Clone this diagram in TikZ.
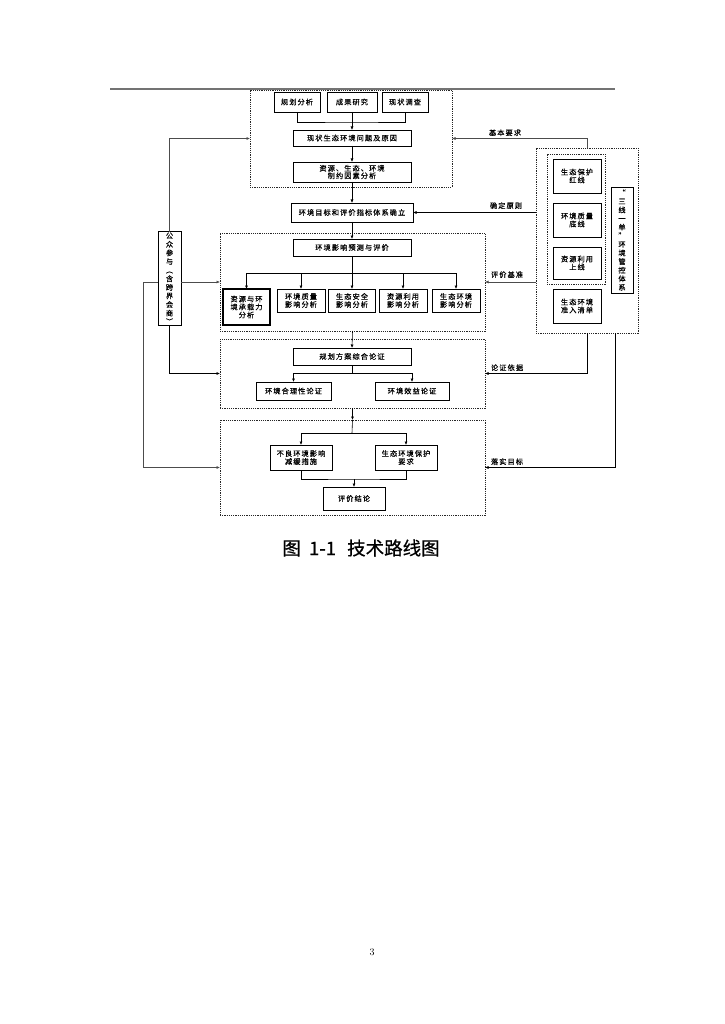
\documentclass[tikz,border=0pt]{standalone}
\usepackage{fontspec}
\newfontfamily\cjk[LetterSpace=15,FakeBold=0.4]{Noto Sans CJK SC}
\newfontfamily\cjkv[FakeBold=0.4]{Noto Sans CJK SC}
\newfontfamily\capf[FakeBold=0.5]{Noto Sans CJK SC}
\usetikzlibrary{arrows.meta,shadows}
\begin{document}
\begin{tikzpicture}[x=1pt,y=-1pt,
  every node/.style={outer sep=0pt},
  bx/.style={draw=black, line width=0.6pt, fill=white, inner sep=1pt, align=center,
    font=\cjk\fontsize{7.2}{9}\selectfont,
    drop shadow={shadow xshift=0.9pt, shadow yshift=-0.9pt, fill=black!55, opacity=1}},
  vbx/.style={bx, font=\cjkv\fontsize{7.2}{8.6}\selectfont},
  dbox/.style={draw=black!85, line width=0.6pt, dash pattern=on 1.2pt off 1pt, inner sep=0pt},
  ln/.style={draw=black, line width=0.6pt},
  arr/.style={ln, -{Latex[length=3.5pt,width=3pt]}},
  sarr/.style={arr, draw=black!70},
  lbl/.style={font=\cjk\fontsize{7.2}{8}\selectfont, inner sep=0pt, anchor=south west}]
\useasboundingbox (0,0) rectangle (724,1024);
\fill[white] (0,0) rectangle (724,1024);
% header rule
\draw[line width=1.5pt, black!55] (110,89) -- (615,89);
% dashed groups
\node[dbox, minimum width=202pt, minimum height=97pt] (d1) at (351,138.5) {};
\node[dbox, minimum width=265pt, minimum height=98pt] (d2) at (352.5,282) {};
\node[dbox, minimum width=265pt, minimum height=69pt] (d3) at (352.5,373.5) {};
\node[dbox, minimum width=265pt, minimum height=95pt] (d4) at (352.5,467.5) {};
\node[dbox, minimum width=102pt, minimum height=185pt] (ob) at (587,240.5) {};
\node[dbox, minimum width=58pt, minimum height=130pt] (ib) at (576,219) {};
% top group
\node[bx, minimum width=46pt, minimum height=20pt] (gh) at (297,102) {规划分析};
\node[bx, minimum width=50pt, minimum height=20pt] (cg) at (352,102) {成果研究};
\node[bx, minimum width=46pt, minimum height=20pt] (xz) at (405,102) {现状调查};
\node[bx, minimum width=118pt, minimum height=16pt] (wt) at (352,138) {现状生态环境问题及原因};
\node[bx, minimum width=118pt, minimum height=20pt] (zy) at (352,172) {资源、生态、环境\\[-1.5pt]制约因素分析};
\node[bx, minimum width=122pt, minimum height=19pt] (mb) at (352,212.5) {环境目标和评价指标体系确立};
% prediction group
\node[bx, minimum width=118pt, minimum height=17pt] (yc) at (352,247.5) {环境影响预测与评价};
\node[bx, line width=1.2pt, minimum width=47pt, minimum height=36pt] (a1) at (246.5,307) {资源与环\\[-1pt]境承载力\\[-1pt]分析};
\node[bx, minimum width=48pt, minimum height=23pt] (a2) at (301,300.5) {环境质量\\[-1pt]影响分析};
\node[bx, minimum width=47pt, minimum height=23pt] (a3) at (352,300.5) {生态安全\\[-1pt]影响分析};
\node[bx, minimum width=48pt, minimum height=23pt] (a4) at (403,300.5) {资源利用\\[-1pt]影响分析};
\node[bx, minimum width=48pt, minimum height=23pt] (a5) at (456,300.5) {生态环境\\[-1pt]影响分析};
% demonstration group
\node[bx, minimum width=118pt, minimum height=17pt] (lz) at (352,356.5) {规划方案综合论证};
\node[bx, minimum width=75pt, minimum height=18pt] (hl) at (293.5,391) {环境合理性论证};
\node[bx, minimum width=74pt, minimum height=18pt] (xy) at (412,391) {环境效益论证};
% conclusion group
\node[bx, minimum width=62pt, minimum height=25pt] (jh) at (301,457.5) {不良环境影响\\[-1pt]减缓措施};
\node[bx, minimum width=62pt, minimum height=25pt] (bh) at (406,457.5) {生态环境保护\\[-1pt]要求};
\node[bx, minimum width=62pt, minimum height=23pt] (jl) at (354,498.5) {评价结论};
% right group
\node[bx, minimum width=48pt, minimum height=34pt] (hx) at (577,176) {生态保护\\[-1pt]红线};
\node[bx, minimum width=48pt, minimum height=34pt] (dx) at (577,220) {环境质量\\[-1pt]底线};
\node[bx, minimum width=48pt, minimum height=32pt] (sx) at (577,263) {资源利用\\[-1pt]上线};
\node[bx, minimum width=48pt, minimum height=34pt] (qd) at (577,306) {生态环境\\[-1pt]准入清单};
\node[vbx, minimum width=22pt, minimum height=106pt] (sy) at (622,240) {“\\三\\线\\一\\单\\”\\环\\境\\管\\控\\体\\系};
% public participation
\node[vbx, minimum width=23pt, minimum height=93pt] (pg) at (169.5,278.5) {公\\众\\参\\与\\︵\\含\\跨\\界\\会\\商\\︶};
% junction coordinates
\coordinate (j1) at (352,122);
\coordinate (b1) at (352,273);
\coordinate (b2) at (352,373);
\coordinate (b3) at (352,433);
\coordinate (b4) at (354,479);
\coordinate (ob2) at (615,333);
% top connectors
\draw[ln] (gh.south) |- (j1) -| (xz.south);
\draw[arr] (cg.south) -- (wt.north);
\draw[arr] (wt.south) -- (zy.north);
\draw[arr] (zy.south) -- (mb.north);
\draw[arr] (mb.south) -- (yc.north);
% branch to analyses
\draw[ln] (yc.south) -- (b1);
\draw[arr] (b1) -| (a1.north);
\draw[arr] (b1) -| (a2.north);
\draw[arr] (b1) -- (a3.north);
\draw[arr] (b1) -| (a4.north);
\draw[arr] (b1) -| (a5.north);
% to demonstration
\draw[arr] (d2.south) -- (lz.north);
\draw[ln] (lz.south) -- (b2);
\draw[arr] (b2) -| (hl.north);
\draw[arr] (b2) -| (xy.north);
% to conclusion
\draw[arr] (d3.south) -- (d4.north);
\draw[ln] (d4.north) -- (b3);
\draw[arr] (b3) -| (jh.north);
\draw[arr] (b3) -| (bh.north);
\draw[ln] (jh.south) |- (b4) -| (bh.south);
\draw[arr] (b4) -- (jl.north);
% public participation connectors
\draw[sarr] (pg.north) |- (d1.west);
\draw[sarr] (pg.east |- d2.west) -- (d2.west);
\draw[sarr] (pg.west |- d2.west) -- ++(-15,0) |- (d4.west);
\draw[arr] (pg.south) |- (d3.west);
% right connectors
\draw[sarr] (ob.north) |- (d1.east);
\node[lbl] (t1) at (489,136) {基本要求};
\draw[arr] (ob.west |- mb.east) -- (mb.east);
\node[lbl] (t2) at (490,209) {确定原则};
\draw[sarr] (ob.west |- d2.east) -- (d2.east);
\node[lbl] (t3) at (491,278) {评价基准};
\draw[arr] (ob.south) |- (d3.east);
\node[lbl] (t4) at (491,371) {论证依据};
\draw[arr] (ob2) |- (d4.east);
\node[lbl] (t5) at (491,465) {落实目标};
% caption and page number
\node[font=\capf\fontsize{18.5}{20}\selectfont] (cap) at (361,548) {图\hspace{0.45em}1-1\hspace{0.6em}技术路线图};
\node[font=\fontsize{10}{12}\selectfont] (pn) at (372,952) {3};
\end{tikzpicture}
\end{document}
